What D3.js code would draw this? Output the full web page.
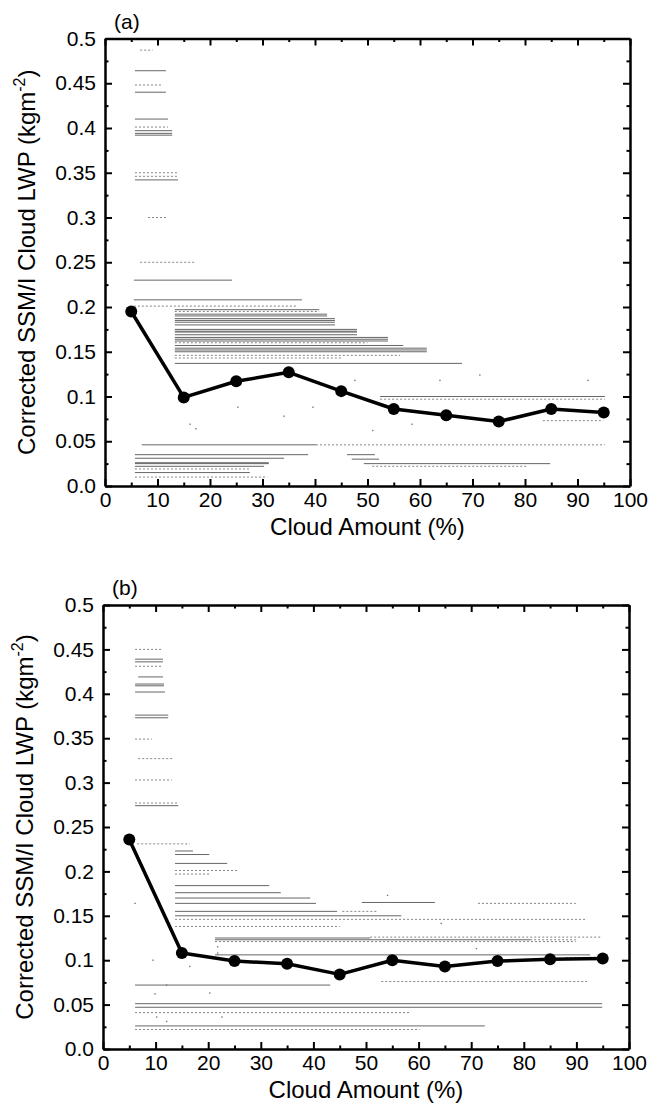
<!DOCTYPE html>
<html>
<head>
<meta charset="utf-8">
<script src="https://cdn.jsdelivr.net/npm/d3@7"></script>
<style>
  html, body { margin: 0; padding: 0; background: #fff; }
  svg { display: block; }
  text { font-family: "Liberation Sans", Arial, sans-serif; fill: #000; }
</style>
</head>
<body>
<svg id="chart" width="650" height="1108"></svg>
<script>
// ---------------- DATA ----------------
const cloudAmount = [5, 15, 25, 35, 45, 55, 65, 75, 85, 95];
const lwpMeanA = [0.195, 0.099, 0.117, 0.127, 0.106, 0.086, 0.079, 0.072, 0.086, 0.082];
const lwpMeanB = [0.236, 0.108, 0.099, 0.096, 0.084, 0.100, 0.093, 0.099, 0.101, 0.102];

const xTickValues = [0, 10, 20, 30, 40, 50, 60, 70, 80, 90, 100];
const xMinorValues = [5, 15, 25, 35, 45, 55, 65, 75, 85, 95];
const yTickValues = [0, 0.05, 0.1, 0.15, 0.2, 0.25, 0.3, 0.35, 0.4, 0.45, 0.5];
const yTickLabels = ["0.0", "0.05", "0.1", "0.15", "0.2", "0.25", "0.3", "0.35", "0.4", "0.45", "0.5"];
const yMinorValues = [0.025, 0.075, 0.125, 0.175, 0.225, 0.275, 0.325, 0.375, 0.425, 0.475];

// individual retrievals: [cloud amount start, cloud amount end, LWP]
const solidStreaksA = [
  [5.7, 11.6, 0.464], [5.7, 11.6, 0.440], [5.7, 12.0, 0.410], [5.7, 12.8, 0.397],
  [5.7, 12.8, 0.394], [5.7, 12.8, 0.392], [5.7, 13.9, 0.342], [5.5, 24.2, 0.230],
  [5.5, 37.5, 0.208], [13.3, 40.8, 0.197], [13.3, 42.3, 0.192], [13.3, 42.3, 0.190],
  [13.3, 43.8, 0.187], [13.3, 43.8, 0.185], [13.3, 43.8, 0.183], [13.3, 43.8, 0.180],
  [13.3, 48.0, 0.175], [13.3, 48.0, 0.173], [13.3, 48.0, 0.172], [13.3, 48.0, 0.169],
  [13.3, 53.9, 0.166], [13.3, 53.9, 0.164], [13.3, 53.9, 0.162], [13.3, 56.8, 0.157],
  [13.3, 61.3, 0.154], [13.3, 61.3, 0.152], [13.3, 61.3, 0.150], [13.3, 68.0, 0.137],
  [52.4, 95.2, 0.100], [7.0, 40.2, 0.046], [5.7, 38.7, 0.035], [5.7, 34.1, 0.031],
  [5.7, 31.2, 0.026], [5.7, 31.2, 0.025], [49.3, 84.8, 0.025], [5.7, 30.3, 0.022],
  [5.7, 27.6, 0.015], [46.1, 51.4, 0.035], [47.0, 52.2, 0.030]
];
const dottedStreaksA = [
  [6.7, 9.1, 0.487], [5.7, 11.0, 0.448], [5.7, 12.0, 0.401], [5.7, 13.9, 0.350],
  [5.7, 13.9, 0.346], [8.2, 12.0, 0.300], [6.7, 17.1, 0.250], [5.5, 36.6, 0.201],
  [13.3, 40.8, 0.195], [13.3, 50.0, 0.160], [13.3, 56.2, 0.146], [13.3, 45.0, 0.143],
  [52.4, 95.2, 0.097], [83.4, 94.9, 0.073], [40.2, 95.2, 0.046], [50.9, 80.4, 0.022],
  [5.7, 27.6, 0.019], [5.7, 30.9, 0.010]
];
const speckA = [
  [47.6, 0.118], [63.8, 0.118], [71.4, 0.124], [92, 0.118], [39.6, 0.088], [58.5, 0.069],
  [51, 0.062], [25.3, 0.088], [34.1, 0.078], [16.2, 0.069], [17.3, 0.064]
];

const solidStreaksB = [
  [6.1, 11.4, 0.439], [6.1, 11.4, 0.436], [6.7, 11.4, 0.419], [6.1, 11.6, 0.411],
  [6.1, 11.6, 0.409], [6.1, 11.8, 0.402], [6.1, 12.4, 0.376], [6.1, 12.4, 0.373],
  [6.1, 14.3, 0.274], [13.7, 17.1, 0.223], [13.7, 20.2, 0.219], [13.7, 23.6, 0.209],
  [13.7, 31.6, 0.184], [13.7, 33.8, 0.176], [13.7, 39.4, 0.170], [13.7, 40.5, 0.164],
  [49.2, 63.1, 0.165], [13.7, 44.5, 0.155], [13.7, 56.7, 0.150], [21.3, 50.8, 0.125],
  [21.3, 81.2, 0.123], [21.3, 92.6, 0.106], [6.1, 43.2, 0.072], [6.1, 94.9, 0.051],
  [6.1, 94.9, 0.047], [6.1, 72.6, 0.026]
];
const dottedStreaksB = [
  [6.1, 11.2, 0.450], [6.1, 11.4, 0.431], [6.1, 9.3, 0.349], [6.7, 13.3, 0.327],
  [6.1, 13.1, 0.303], [6.1, 14.3, 0.277], [6.5, 16.5, 0.231], [13.7, 25.8, 0.201],
  [13.7, 20.3, 0.197], [71.3, 89.9, 0.164], [45.5, 52.0, 0.155], [13.7, 92.0, 0.146],
  [13.7, 45.0, 0.138], [50.8, 94.9, 0.126], [81.2, 89.9, 0.123], [21.3, 89.9, 0.121],
  [88.0, 92.4, 0.103], [52.9, 92.0, 0.076], [6.1, 58.3, 0.041], [6.1, 60.2, 0.022]
];
const speckB = [
  [9.9, 0.062], [12.1, 0.072], [20.3, 0.063], [22.6, 0.036], [10.2, 0.036], [12.1, 0.031],
  [6.1, 0.164], [9.5, 0.10], [16.5, 0.093], [54.1, 0.173], [64.3, 0.1415], [71, 0.113],
  [21.8, 0.115], [21.8, 0.108]
];

const panelLabels = ["(a)", "(b)"];
const xTitle = "Cloud Amount (%)";
const yTitleMain = "Corrected SSM/I Cloud LWP (kgm";

// ---------------- DRAW ----------------
const svg = d3.select("#chart");

const panels = [
  { label: panelLabels[0], mean: lwpMeanA, solid: solidStreaksA, dotted: dottedStreaksA, speck: speckA,
    left: 105, right: 630, top: 38.5, bottom: 486 },
  { label: panelLabels[1], mean: lwpMeanB, solid: solidStreaksB, dotted: dottedStreaksB, speck: speckB,
    left: 103, right: 629, top: 605, bottom: 1049 }
];

panels.forEach(p => {
  const x = d3.scaleLinear().domain([0, 100]).range([p.left, p.right]);
  const y = d3.scaleLinear().domain([0, 0.5]).range([p.bottom, p.top]);
  const g = svg.append("g");

  // streaks (individual data)
  g.append("g").selectAll("line").data(p.solid).join("line")
    .attr("x1", d => x(d[0])).attr("x2", d => x(d[1]))
    .attr("y1", d => y(d[2])).attr("y2", d => y(d[2]))
    .attr("stroke", "#555").attr("stroke-width", 0.9);
  g.append("g").selectAll("line").data(p.dotted).join("line")
    .attr("x1", d => x(d[0])).attr("x2", d => x(d[1]))
    .attr("y1", d => y(d[2])).attr("y2", d => y(d[2]))
    .attr("stroke", "#777").attr("stroke-width", 0.9)
    .attr("stroke-dasharray", "2,2");
  g.append("g").selectAll("rect").data(p.speck).join("rect")
    .attr("x", d => x(d[0]) - 0.7).attr("y", d => y(d[1]) - 0.7)
    .attr("width", 1.4).attr("height", 1.4).attr("fill", "#777");

  // axes
  const major = 7, minor = 3.5;
  const styleAxis = (sel) => {
    sel.attr("font-family", null).attr("font-size", null);
    sel.select(".domain").attr("stroke", "#000").attr("stroke-width", 2.5);
    sel.selectAll(".tick line").attr("stroke", "#000").attr("stroke-width", 2);
    sel.selectAll(".tick text").style("font-family", "'Liberation Sans', Arial, sans-serif")
      .style("font-size", "21px").attr("fill", "#000");
  };
  // bottom
  g.append("g").attr("transform", `translate(0,${p.bottom})`)
    .call(d3.axisBottom(x).tickValues(xTickValues).tickSize(-major).tickSizeOuter(0).tickPadding(6).tickFormat(d3.format("d")))
    .call(styleAxis);
  g.append("g").attr("transform", `translate(0,${p.bottom})`)
    .call(d3.axisBottom(x).tickValues(xMinorValues).tickSize(-minor).tickFormat(""))
    .call(styleAxis).call(s => s.select(".domain").remove());
  // top
  g.append("g").attr("transform", `translate(0,${p.top})`)
    .call(d3.axisTop(x).tickValues(xTickValues).tickSize(-major).tickSizeOuter(0).tickFormat(""))
    .call(styleAxis);
  g.append("g").attr("transform", `translate(0,${p.top})`)
    .call(d3.axisTop(x).tickValues(xMinorValues).tickSize(-minor).tickFormat(""))
    .call(styleAxis).call(s => s.select(".domain").remove());
  // left
  g.append("g").attr("transform", `translate(${p.left},0)`)
    .call(d3.axisLeft(y).tickValues(yTickValues).tickSize(-major).tickSizeOuter(0).tickPadding(9)
      .tickFormat((d, i) => yTickLabels[i]))
    .call(styleAxis);
  g.append("g").attr("transform", `translate(${p.left},0)`)
    .call(d3.axisLeft(y).tickValues(yMinorValues).tickSize(-minor).tickFormat(""))
    .call(styleAxis).call(s => s.select(".domain").remove());
  // right
  g.append("g").attr("transform", `translate(${p.right},0)`)
    .call(d3.axisRight(y).tickValues(yTickValues).tickSize(-major).tickSizeOuter(0).tickFormat(""))
    .call(styleAxis);
  g.append("g").attr("transform", `translate(${p.right},0)`)
    .call(d3.axisRight(y).tickValues(yMinorValues).tickSize(-minor).tickFormat(""))
    .call(styleAxis).call(s => s.select(".domain").remove());

  // mean line + markers
  const pts = cloudAmount.map((c, i) => [c, p.mean[i]]);
  g.append("path").datum(pts)
    .attr("fill", "none").attr("stroke", "#000").attr("stroke-width", 3.5)
    .attr("stroke-linejoin", "round")
    .attr("d", d3.line().x(d => x(d[0])).y(d => y(d[1])));
  g.append("g").selectAll("circle").data(pts).join("circle")
    .attr("cx", d => x(d[0])).attr("cy", d => y(d[1])).attr("r", 6).attr("fill", "#000");

  // titles
  g.append("text").attr("x", (p.left + p.right) / 2).attr("y", p.bottom + 49)
    .attr("text-anchor", "middle").style("font-size", "24px").text(xTitle);
  const yt = g.append("text")
    .attr("transform", `translate(${p.left - 70},${(p.top + p.bottom) / 2}) rotate(-90)`)
    .attr("text-anchor", "middle").style("font-size", "24px");
  yt.append("tspan").text(yTitleMain);
  yt.append("tspan").attr("dy", -10).style("font-size", "16px").text("-2");
  yt.append("tspan").attr("dy", 10).text(")");

  g.append("text").attr("x", p.left + 9).attr("y", p.top - 10)
    .style("font-size", "21px").text(p.label);
});
</script>
</body>
</html>
